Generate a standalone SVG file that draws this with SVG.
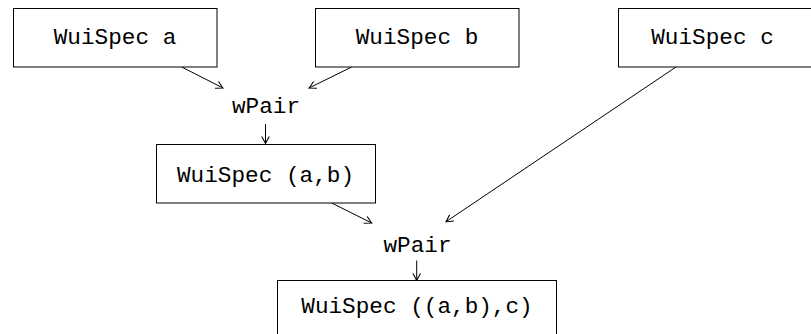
<svg xmlns="http://www.w3.org/2000/svg" width="811" height="334" viewBox="0 0 811 334">
<defs>
<marker id="arr" viewBox="-8 -5 10 10" refX="0" refY="0" markerWidth="10" markerHeight="10" markerUnits="userSpaceOnUse" orient="auto">
<path d="M -7,-3.8 Q -2,-1 0,0 Q -2,1 -7,3.8" fill="none" stroke="#000" stroke-width="1.1"/>
</marker>
<style>
.box{fill:#fff;stroke:#000;stroke-width:1}
.t{font-family:"Liberation Mono","Courier New",monospace;font-size:22.7px;fill:#000;text-anchor:middle}
.c{fill:none;stroke:#000;stroke-width:1;marker-end:url(#arr)}
</style>
</defs>
<rect width="811" height="334" fill="#fff"/>
<g id="connectors">
<line class="c" x1="181.7" y1="67" x2="223" y2="88"/>
<line class="c" x1="351.7" y1="67" x2="309" y2="88"/>
<line class="c" x1="265.5" y1="124" x2="265.5" y2="143.5"/>
<line class="c" x1="331.7" y1="203" x2="371.7" y2="223"/>
<line class="c" x1="676" y1="67" x2="446" y2="221.7"/>
<line class="c" x1="416.7" y1="260.5" x2="416.7" y2="280.5"/>
</g>
<g id="nodeA"><rect class="box" x="13.5" y="8.5" width="203.5" height="58.5"/><text class="t" x="115" y="43.5">WuiSpec a</text></g>
<g id="nodeB"><rect class="box" x="315.5" y="8.5" width="203.5" height="58.5"/><text class="t" x="417" y="43.5">WuiSpec b</text></g>
<g id="nodeC"><rect class="box" x="618.5" y="8.5" width="203.5" height="58.5"/><text class="t" x="712.5" y="43.5">WuiSpec c</text></g>
<g id="wPair1"><text class="t" x="266" y="113">wPair</text></g>
<g id="nodeAB"><rect class="box" x="156.5" y="144.5" width="219" height="58.5"/><text class="t" x="265.5" y="181.7">WuiSpec (a,b)</text></g>
<g id="wPair2"><text class="t" x="417.5" y="251.7">wPair</text></g>
<g id="nodeABC"><rect class="box" x="277.5" y="280.5" width="279" height="58.5"/><text class="t" x="417" y="313.3">WuiSpec ((a,b),c)</text></g>
</svg>
